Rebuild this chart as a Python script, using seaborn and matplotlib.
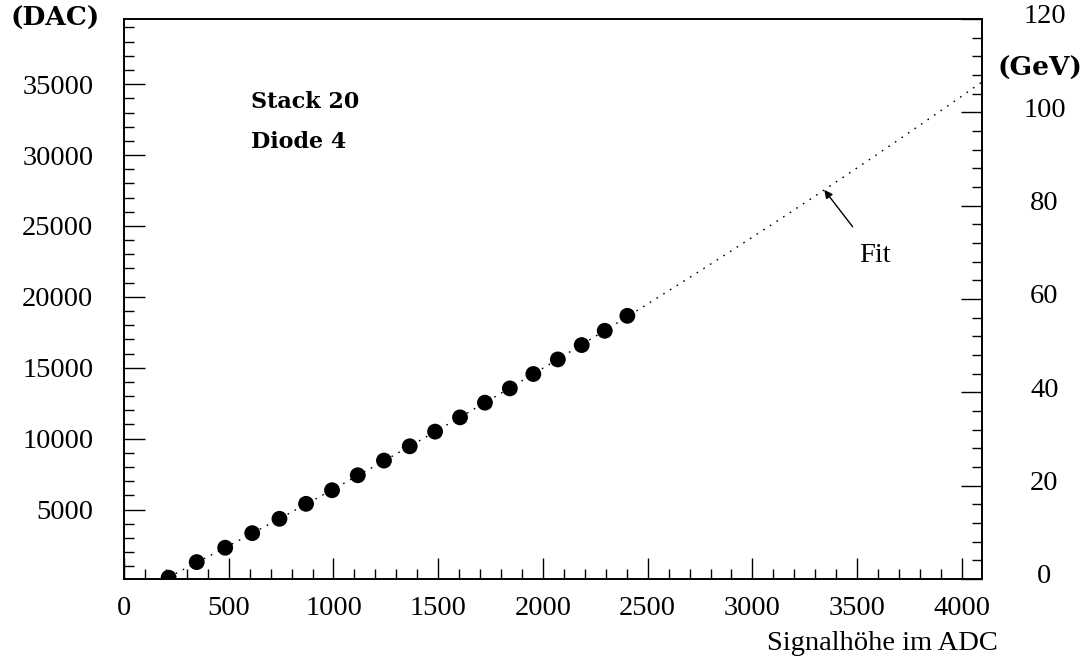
import numpy as np
import pandas as pd
import matplotlib
matplotlib.use("Agg")
import matplotlib.pyplot as plt
import matplotlib.transforms as mtransforms
import seaborn as sns
from matplotlib.ticker import MultipleLocator

# ---- data ----
adc = [213, 347, 483, 612, 742, 869, 993, 1116, 1241, 1364, 1485,
       1604, 1723, 1842, 1954, 2071, 2185, 2295, 2403]
dac = [190, 1289, 2303, 3331, 4345, 5401, 6359, 7415, 8451, 9458, 10493,
       11500, 12535, 13542, 14556, 15585, 16599, 17606, 18662]
x_ticks = [0, 500, 1000, 1500, 2000, 2500, 3000, 3500, 4000]
y_ticks = [5000, 10000, 15000, 20000, 25000, 30000, 35000]
gev_ticks = [0, 20, 40, 60, 80, 100, 120]

sns.set_theme(style="ticks")
plt.rcParams["font.family"] = ["Liberation Serif", "DejaVu Serif"]
plt.rcParams["text.color"] = "black"
plt.rcParams["axes.labelcolor"] = "black"
plt.rcParams["xtick.color"] = "black"
plt.rcParams["ytick.color"] = "black"

df = pd.DataFrame({"adc": adc, "dac": dac})

# quadratic fit of the measured points, extended to the end of the ADC range
coef = np.polyfit(df["adc"], df["dac"], 2)
xfit = np.linspace(df["adc"].min(), 4096, 300)
fit_df = pd.DataFrame({"adc": xfit, "dac": np.polyval(coef, xfit)})

fig = plt.figure(figsize=(10.87, 6.61), dpi=100)
ax = fig.add_axes([0.1141, 0.1241, 0.7893, 0.8472])

sns.lineplot(data=fit_df, x="adc", y="dac", ax=ax, color="black",
             linewidth=1.0, linestyle=(0, (1.2, 4.5)), zorder=2)
sns.scatterplot(data=df, x="adc", y="dac", ax=ax, color="black",
                s=130, edgecolor="none", zorder=3)

ax.set_xlim(0, 4096)
ax.set_ylim(100, 39600)
ax.set_xticks(x_ticks)
ax.set_yticks(y_ticks)
ax.xaxis.set_minor_locator(MultipleLocator(100))
ax.yaxis.set_minor_locator(MultipleLocator(1000))
ax.set_xlabel("")
ax.set_ylabel("")

for sp in ax.spines.values():
    sp.set_linewidth(1.2)
    sp.set_color("black")
    sp.set_visible(True)

ax.tick_params(axis="both", which="major", direction="in", length=15,
               width=1.0, labelsize=20.5, colors="black",
               top=False, right=False)
ax.tick_params(axis="both", which="minor", direction="in", length=7.5,
               width=1.0, top=False, right=False)
ax.tick_params(axis="y", which="major", pad=22)
ax.tick_params(axis="x", which="major", pad=12)

ax2 = ax.twinx()
ax2.set_ylim(0, 120)
ax2.set_yticks(gev_ticks)
ax2.yaxis.set_minor_locator(MultipleLocator(4))
ax2.tick_params(axis="y", which="major", direction="in", length=15,
                width=1.0, labelsize=20.5, colors="black", pad=45)
ax2.tick_params(axis="y", which="minor", direction="in", length=7.5,
                width=1.0)
shift_up = mtransforms.ScaledTranslation(0, 5 / 100, fig.dpi_scale_trans)
for lab in ax2.get_yticklabels():
    lab.set_horizontalalignment("center")
    lab.set_transform(lab.get_transform() + shift_up)
for sp in ax2.spines.values():
    sp.set_linewidth(1.2)
    sp.set_color("black")

bold = dict(family="DejaVu Serif", weight="bold", color="black")
# labels
fig.text(0.051, 0.972, "(DAC)", ha="center", va="center",
         fontsize=19, **bold)
fig.text(0.957, 0.897, "(GeV)", ha="center", va="center",
         fontsize=19, **bold)
fig.text(0.918, 0.027, "Signalhöhe im ADC", ha="right", va="center",
         fontsize=20.5)
ax.text(0.148, 0.851, "Stack 20", transform=ax.transAxes,
        ha="left", va="center", fontsize=16, **bold)
ax.text(0.148, 0.781, "Diode 4", transform=ax.transAxes,
        ha="left", va="center", fontsize=16, **bold)

x_tip = 3343
ax.annotate("Fit", xy=(x_tip, np.polyval(coef, x_tip)),
            xytext=(3585, 22900), ha="center", va="center", fontsize=20.5,
            arrowprops=dict(arrowstyle="-|>", color="black", lw=1.0,
                            shrinkA=12, shrinkB=0, mutation_scale=12))

fig.savefig("out.png", dpi=100)
